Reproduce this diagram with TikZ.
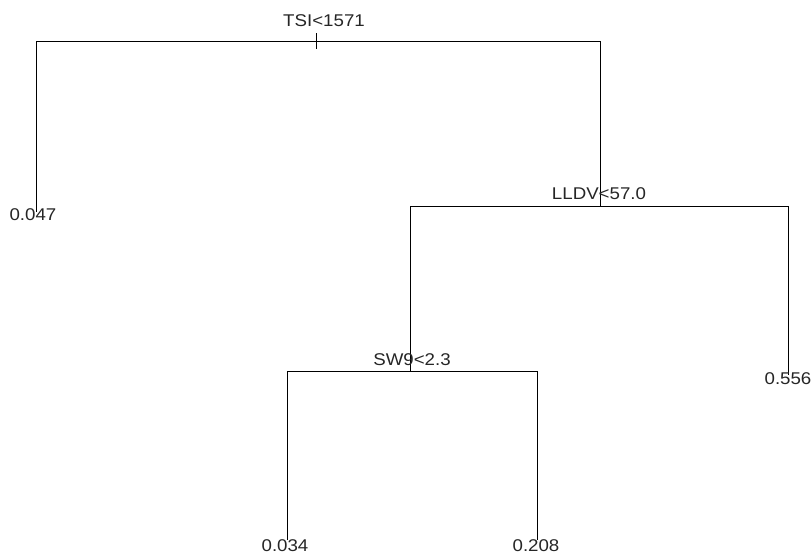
\documentclass[tikz,border=0pt]{standalone}
\usepackage{fontspec}
\newfontfamily\labfont[FakeStretch=1.1]{Liberation Sans}
\begin{document}
\begin{tikzpicture}[x=1pt,y=-1pt,
  edge/.style={line width=1pt,black},
  lab/.style={font=\labfont\fontsize{17}{17}\selectfont,text=black!85,inner sep=0pt,anchor=base}]
\useasboundingbox (0,0) rectangle (812,554);
% branch points
\coordinate (n1) at (316,41);
\coordinate (a) at (36,41);
\coordinate (b) at (600,41);
\coordinate (l1) at (36,212);
\coordinate (n2) at (600,206);
\coordinate (c) at (410,206);
\coordinate (d) at (788,206);
\coordinate (n3) at (410,371);
\coordinate (l4) at (788,375);
\coordinate (e) at (287,371);
\coordinate (f) at (537,371);
\coordinate (l2) at (287,540);
\coordinate (l3) at (537,540);
\coordinate (t1) at (316,33);
\coordinate (t2) at (316,49);
% edges
\draw[edge] (l1) -- (a) -- (b) -- (n2);
\draw[edge] (t1) -- (t2);
\draw[edge] (n3) -- (c) -- (d) -- (l4);
\draw[edge] (c) -- (n2);
\draw[edge] (l2) -- (e) -- (f) -- (l3);
% labels
\node[lab] (s1) at (324,27) {TSI<1571};
\node[lab] (s2) at (599,199) {LLDV<57.0};
\node[lab] (s3) at (412,365) {SW9<2.3};
\node[lab] (v1) at (33,220) {0.047};
\node[lab] (v4) at (788,384) {0.556};
\node[lab] (v2) at (285,551) {0.034};
\node[lab] (v3) at (536,551) {0.208};
\end{tikzpicture}
\end{document}
